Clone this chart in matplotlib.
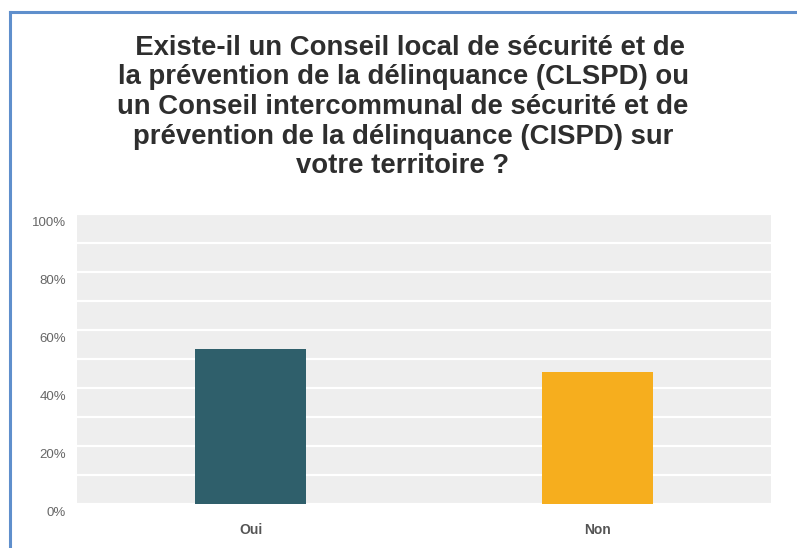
import matplotlib
matplotlib.use("Agg")
import matplotlib.pyplot as plt
import matplotlib.transforms as mtransforms
from matplotlib.lines import Line2D

# Data
categories = ["Oui", "Non"]
values = [53.5, 45.5]
colors = ["#2f5f6b", "#f6ae1e"]
yticks = [0, 20, 40, 60, 80, 100]
ytick_labels = ["0%", "20%", "40%", "60%", "80%", "100%"]
title = ("  Existe-il un Conseil local de sécurité et de\n"
         "la prévention de la délinquance (CLSPD) ou\n"
         "un Conseil intercommunal de sécurité et de\n"
         "prévention de la délinquance (CISPD) sur\n"
         "votre territoire ?")

plt.rcParams['font.family'] = ['Liberation Sans', 'DejaVu Sans']

W, H = 797, 548
fig = plt.figure(figsize=(W / 100, H / 100), dpi=100)

# outer frame (blue left/top border)
fig.add_artist(Line2D([10 / W, 10 / W], [0, 1 - 12 / H], color="#5f8fcc", lw=2.2))
fig.add_artist(Line2D([10 / W, 1], [1 - 12 / H, 1 - 12 / H], color="#5f8fcc", lw=2.2))

fig.text(403 / W, 1 - 107 / H, title, ha="center", va="center", fontsize=19.8,
         fontweight="bold", color="#2e2e2e", linespacing=1.18)

ax = fig.add_axes([77 / W, (H - 504) / H, 694 / W, 290 / H])
ax.set_facecolor("#eeeeee")
x = range(len(categories))
ax.bar(x, values, width=0.32, color=colors, zorder=3)
ax.set_xlim(-0.5, 1.5)
ax.set_ylim(0, 100)

# white grid every 10 %
ax.set_yticks(range(0, 101, 10))
ax.grid(True, axis="y", color="white", lw=1.6, zorder=1)
ax.set_yticklabels([])
ax.tick_params(axis="y", length=0)

# y labels sit a bit below their gridline, like the original
trans = ax.get_yaxis_transform() + mtransforms.ScaledTranslation(
    -11 / 100, -9 / 100, fig.dpi_scale_trans)
for v, lab in zip(yticks, ytick_labels):
    ax.text(0, v, lab, transform=trans, ha="right", va="center",
            fontsize=9.5, color="#666666")

ax.set_xticks(list(x))
ax.set_xticklabels(categories, fontsize=10, fontweight="bold", color="#555555")
ax.tick_params(axis="x", length=0, pad=14)
for s in ax.spines.values():
    s.set_visible(False)

fig.savefig("out.png", dpi=100)
